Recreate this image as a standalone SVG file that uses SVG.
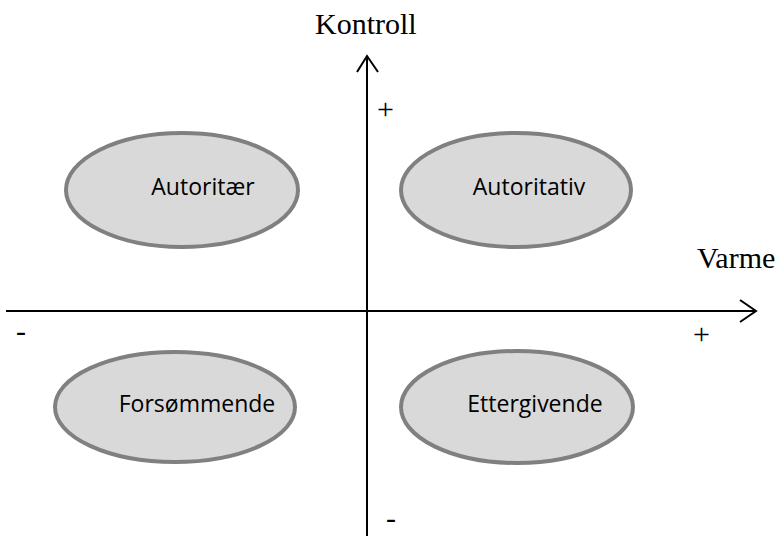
<svg xmlns="http://www.w3.org/2000/svg" width="784" height="536" viewBox="0 0 784 536">
<style>
.node ellipse{fill:#d9d9d9;stroke:#808080;stroke-width:4}
.node text{font-family:"Open Sans","Liberation Sans",sans-serif;font-size:23px;fill:#000;text-anchor:middle}
.axis{stroke:#000;stroke-width:2;fill:none}
.lbl{font-family:"Liberation Serif","Times New Roman",serif;font-size:30px;fill:#000}
</style>
<rect width="784" height="536" fill="#fff"/>
<g id="connectors">
<line class="axis" x1="367" y1="56" x2="367" y2="536"/>
<polyline class="axis" points="357,72 367,56 378,72"/>
<line class="axis" x1="6" y1="311" x2="756" y2="311"/>
<polyline class="axis" points="740,300 756,311 740,322"/>
</g>
<g id="labels">
<text class="lbl" x="315" y="34">Kontroll</text>
<text class="lbl" x="697" y="268">Varme</text>
<text class="lbl" x="377" y="119">+</text>
<text class="lbl" x="693" y="344">+</text>
<text class="lbl" x="16" y="341">-</text>
<text class="lbl" x="386" y="528">-</text>
</g>
<g id="autoritaer" class="node"><ellipse cx="182" cy="190" rx="116" ry="57"/><text x="203" y="195">Autoritær</text></g>
<g id="autoritativ" class="node"><ellipse cx="516" cy="190" rx="115" ry="57"/><text x="529" y="195">Autoritativ</text></g>
<g id="forsommende" class="node"><ellipse cx="175" cy="407" rx="120" ry="55"/><text x="197" y="412">Forsømmende</text></g>
<g id="ettergivende" class="node"><ellipse cx="517" cy="407" rx="116" ry="56"/><text x="535" y="412">Ettergivende</text></g>
</svg>
